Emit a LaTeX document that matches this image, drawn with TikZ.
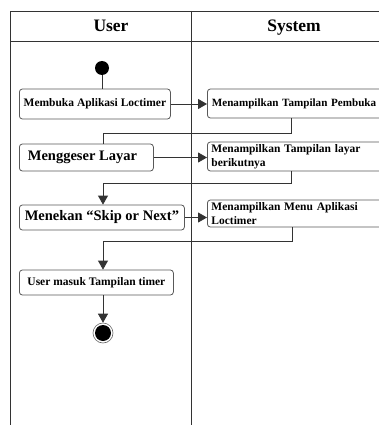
\documentclass[tikz,border=0pt]{standalone}
\usepackage{fontspec}
\setmainfont{Liberation Serif}
\usetikzlibrary{arrows.meta}
\begin{document}
\begin{tikzpicture}[x=1pt,y=-1pt,
  lane/.style={draw=black!80,line width=0.9pt},
  act/.style={draw=black!65,line width=0.8pt,rounded corners=3pt,fill=white,inner sep=0pt,
    font=\bfseries\fontsize{11.5}{13.5}\selectfont},
  bigact/.style={act,font=\bfseries\fontsize{14.5}{16}\selectfont},
  sysact/.style={act,anchor=west,minimum width=200pt,text width=192pt,align=left},
  flow/.style={draw=black!80,line width=0.8pt},
  arr/.style={flow,-{Triangle[width=10pt,length=9pt]}},
  hdr/.style={font=\bfseries\fontsize{17.5}{20}\selectfont,anchor=base}]
\clip (0,0) rectangle (379,425);
\fill[white] (0,0) rectangle (379,425);
% swimlanes
\draw[lane] (10,425) -- (10,11) -- (379,11);
\draw[lane] (10,41) -- (379,41);
\draw[lane] (191,11) -- (191,425);
\node[hdr] (huser) at (111,32) {User};
\node[hdr] (hsys) at (294,32) {System};
% start
\node[circle,fill=black,minimum size=14pt,inner sep=0pt] (start) at (102,68) {};
% activities
\node[act,anchor=west,minimum width=151pt,minimum height=30pt] (a1) at (19,104) {Membuka Aplikasi Loctimer};
\node[sysact,minimum height=29pt,font=\bfseries\fontsize{11.1}{13.5}\selectfont] (s1) at (207,103.5) {\hspace*{0.5pt}Menampilkan Tampilan Pembuka};
\node[bigact,anchor=west,minimum width=134pt,minimum height=27pt] (a2) at (19,157.5) {Menggeser Layar\hspace*{8pt}};
\node[sysact,minimum height=29pt] (s2) at (207,156.5) {Menampilkan Tampilan layar\\berikutnya};
\node[bigact,anchor=west,minimum width=165pt,minimum height=25pt] (a3) at (19,217.5) {Menekan “Skip or Next”};
\node[sysact,minimum height=27pt] (s3) at (207,213.5) {Menampilkan Menu Aplikasi\\Loctimer};
\node[act,anchor=west,minimum width=154pt,minimum height=25pt] (a4) at (19,282.5) {User masuk Tampilan timer};
% end
\node[circle,draw=black!60,line width=0.6pt,fill=white,minimum size=20pt,inner sep=0pt] (endo) at (103,333) {};
\node[circle,fill=black,minimum size=16pt,inner sep=0pt] (endi) at (103,333) {};
% connectors
\coordinate (c1) at (291,133);
\coordinate (c2) at (291,183);
\coordinate (c3) at (292,241);
\draw[flow] (start) -- (start |- a1.north);
\draw[arr] (a1.east) -- (a1.east -| s1.west);
\draw[flow] (s1.south -| c1) -- (c1) -- (103,133) -- (103,0 |- a2.north);
\draw[arr] (a2.east) -- (a2.east -| s2.west);
\draw[arr] (s2.south -| c2) -- (c2) -- (103,183) -- (103,0 |- a3.north);
\draw[arr] (a3.east) -- (a3.east -| s3.west);
\draw[arr] (s3.south -| c3) -- (c3) -- (103,241) -- (103,0 |- a4.north);
\draw[arr] (103,0 |- a4.south) -- (endo.north);
\end{tikzpicture}
\end{document}
